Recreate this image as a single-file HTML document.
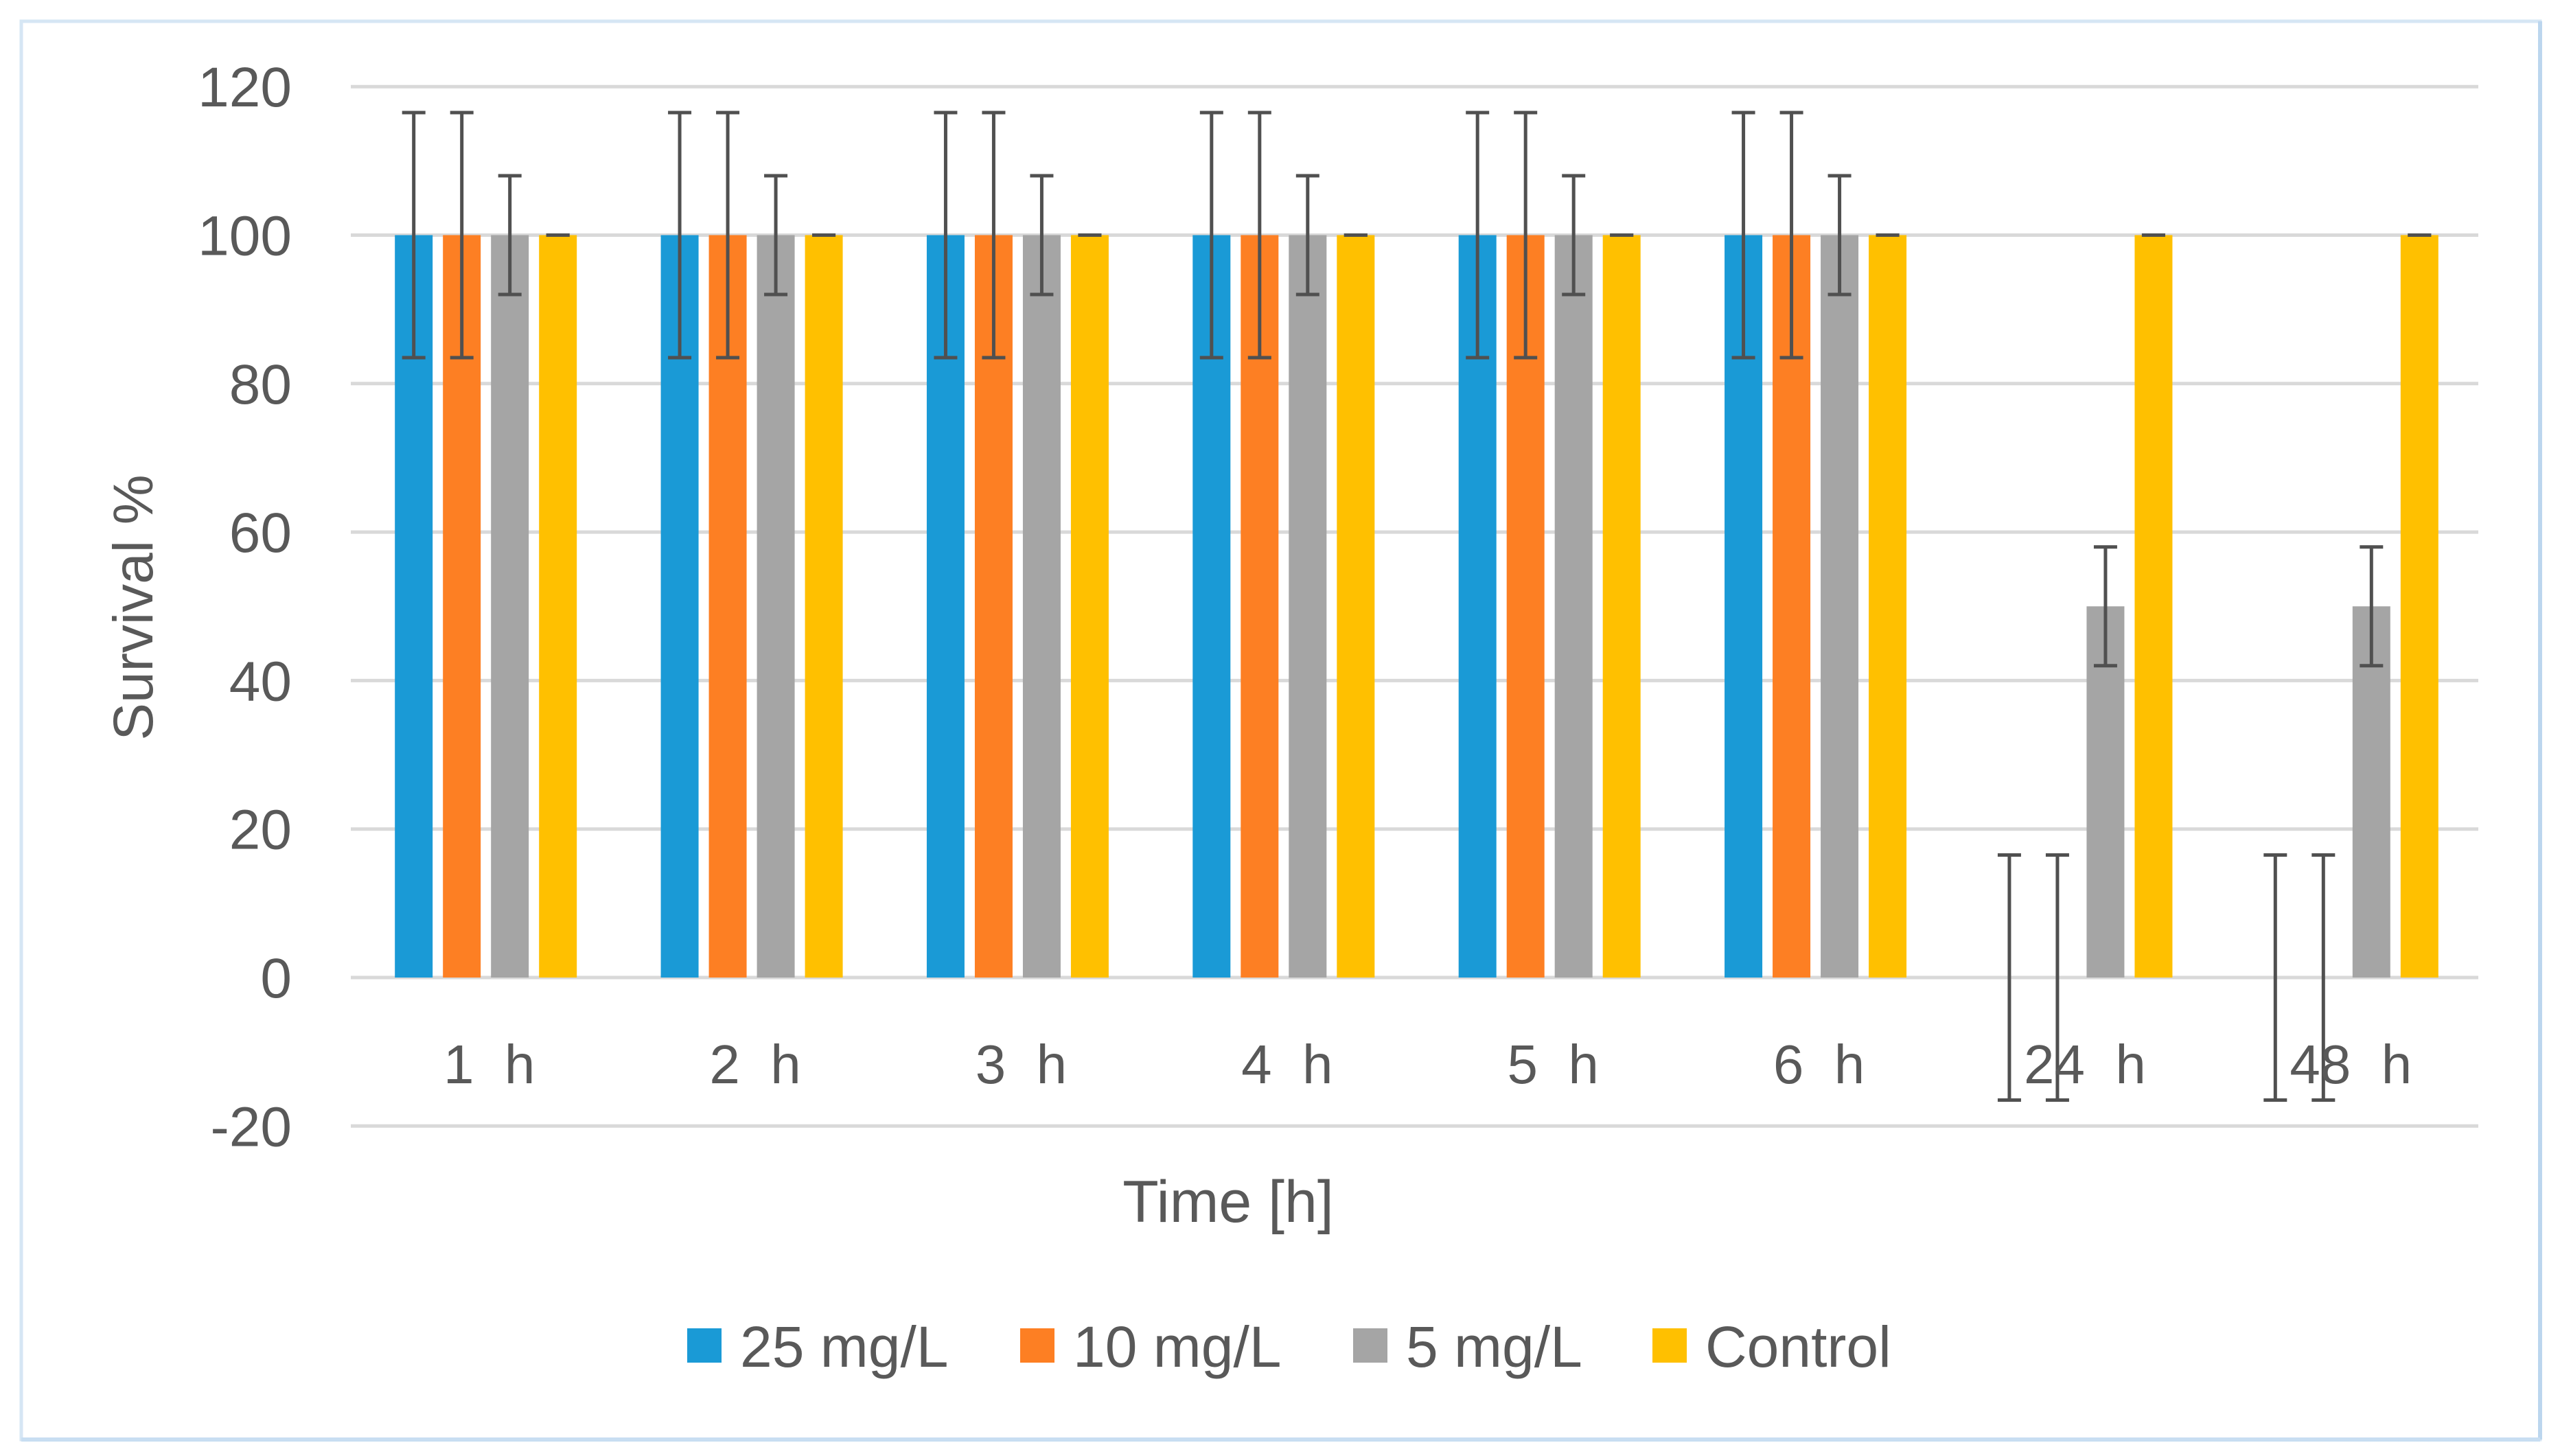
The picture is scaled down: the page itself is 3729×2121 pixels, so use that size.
<!DOCTYPE html>
<html><head><meta charset="utf-8"><style>
html,body{margin:0;padding:0;background:#fff;}
svg{display:block;font-family:"Liberation Sans",sans-serif;}
</style></head><body>
<svg id="chart" width="3729" height="2121" viewBox="0 0 3729 2121" xmlns="http://www.w3.org/2000/svg">
<rect x="31" y="31" width="3669" height="2066" fill="#fff" stroke="#d6e6f4" stroke-width="5"/>
<line x1="3700" y1="31" x2="3700" y2="2097" stroke="#bcd6ee" stroke-width="6"/>
<line x1="31" y1="2097" x2="3700" y2="2097" stroke="#c8def2" stroke-width="6"/>
<g id="grid"></g><g id="bars"></g><g id="errs"></g><g id="labels"></g>
<text transform="translate(222,885) rotate(-90)" text-anchor="middle" font-size="82" fill="#595959">Survival %</text>
<text x="1789" y="1780" text-anchor="middle" font-size="86" fill="#595959">Time [h]</text>
<g id="legend"></g>
</svg>
<script>
const categories=["1  h","2  h","3  h","4  h","5  h","6  h","24  h","48  h"];
const seriesNames=["25 mg/L","10 mg/L","5 mg/L","Control"];
const s25=[100,100,100,100,100,100,0,0];
const s10=[100,100,100,100,100,100,0,0];
const s5=[100,100,100,100,100,100,50,50];
const sCtrl=[100,100,100,100,100,100,100,100];
const e25=[16.5,16.5,16.5,16.5,16.5,16.5,16.5,16.5];
const e10=[16.5,16.5,16.5,16.5,16.5,16.5,16.5,16.5];
const e5=[8,8,8,8,8,8,8,8];
const eCtrl=[0,0,0,0,0,0,0,0];
const yTicks=[-20,0,20,40,60,80,100,120];
const colors=["#1a9ad6","#fd7f23","#a5a5a5","#ffc000"];
const NS="http://www.w3.org/2000/svg";
const X0=511,X1=3610,Y0=1424,PX=216.3/20;
const y=v=>Y0-v*PX;
const gw=(X1-X0)/categories.length;
const gx=i=>X0+gw*(i+0.5)+3;
const BW=55,GAP=15;
function mk(t,a,p){const e=document.createElementNS(NS,t);for(const k in a)e.setAttribute(k,a[k]);document.getElementById(p).appendChild(e);return e;}
yTicks.forEach(t=>{
 const l=mk('line',{x1:X0,x2:X1,y1:y(t),y2:y(t),stroke:'#d9d9d9','stroke-width':5},'grid');
 
 
 const tx=mk('text',{x:425,y:y(t)+29,'text-anchor':'end','font-size':82,fill:'#595959'},'labels');
 tx.textContent=t;
 
 
});
const vals=[s25,s10,s5,sCtrl],errs=[e25,e10,e5,eCtrl];
categories.forEach((c,i)=>{
 const tot=4*BW+3*GAP;
 vals.forEach((s,j)=>{
  const bx=gx(i)-tot/2+j*(BW+GAP);
  const v=s[i];
  if(v!==0){
   const r=mk('rect',{x:bx,y:Math.min(y(v),Y0),width:BW,height:Math.abs(y(v)-Y0),fill:colors[j]},'bars');
   
   
  }
  const cx=bx+BW/2,e=errs[j][i];
  const g=mk('g',{stroke:'#505050','stroke-width':5},'errs');
  
  
  const ln=(a,b,c2,d)=>{const l=document.createElementNS(NS,'line');l.setAttribute('x1',a);l.setAttribute('y1',b);l.setAttribute('x2',c2);l.setAttribute('y2',d);g.appendChild(l);};
  ln(cx,y(v+e),cx,y(v-e));
  ln(cx-17,y(v+e),cx+17,y(v+e));
  ln(cx-17,y(v-e),cx+17,y(v-e));
 });
 const t=mk('text',{x:gx(i)+5,y:1578,'text-anchor':'middle','font-size':80,fill:'#595959'},'labels');
 t.setAttribute('style','white-space:pre');
 t.textContent=c;
 
 
});
const lx=[1001,1486,1971,2407];
seriesNames.forEach((n,j)=>{
 const r=mk('rect',{x:lx[j],y:1935,width:50,height:50,fill:colors[j]},'legend');
 
 
 const t=mk('text',{x:lx[j]+77,y:1991,'font-size':84,fill:'#595959'},'legend');
 t.textContent=n;
 
 
});
</script>
</body></html>
